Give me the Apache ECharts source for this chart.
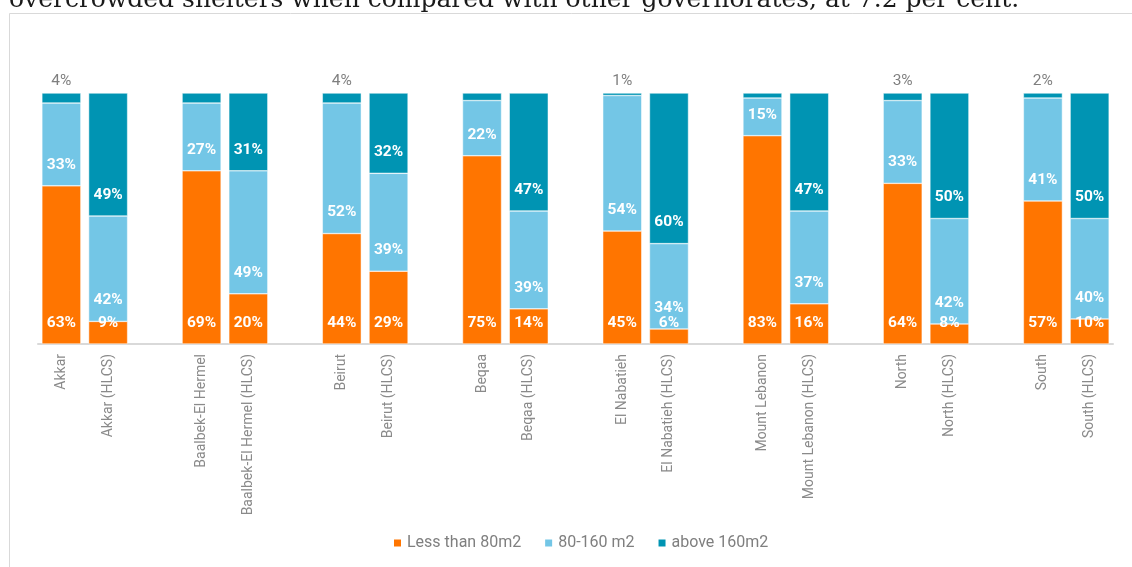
<!DOCTYPE html>
<html>
<head>
<meta charset="utf-8">
<title>Shelter size by governorate</title>
<script src="https://cdn.jsdelivr.net/npm/echarts@6/dist/echarts.min.js"></script>
<style>
  html, body { margin: 0; padding: 0; background: #ffffff; }
  #chart { width: 1132px; height: 567px; }
</style>
</head>
<body>
<div id="chart"></div>
<script>
// Governorates, each shown with its survey value and its HLCS value
const governorates = ['Akkar', 'Baalbek-El Hermel', 'Beirut', 'Beqaa', 'El Nabatieh', 'Mount Lebanon', 'North', 'South'];

// Share of shelters (%) by floor area
const under80 = [63, 69, 44, 75, 45, 83, 64, 57];
const under80Hlcs = [9, 20, 29, 14, 6, 16, 8, 10];
const from80to160 = [33, 27, 52, 22, 54, 15, 33, 41];
const from80to160Hlcs = [42, 49, 39, 39, 34, 37, 42, 40];
const above160 = [4, 4, 4, 3, 1, 2, 3, 2];
const above160Hlcs = [49, 31, 32, 47, 60, 47, 50, 50];

// Small top segments that carry no value label
const unlabelledTop = ['Baalbek-El Hermel', 'Beqaa', 'Mount Lebanon'];

const seriesNames = ['Less than 80m2', '80-160 m2', 'above 160m2'];
const colors = ['#FF7500', '#73C6E6', '#0094B3'];
const headline = 'overcrowded shelters when compared with other governorates, at 7.2 per cent.';

// Build the category axis: pair of bars per governorate, blank slot between pairs
const categories = [];
governorates.forEach((g, i) => {
  categories.push(g, g + ' (HLCS)');
  if (i < governorates.length - 1) categories.push('');
});

function interleave(main, hlcs, decorateMain) {
  const out = [];
  main.forEach((v, i) => {
    out.push(decorateMain ? decorateMain(v, i) : v);
    out.push(hlcs[i]);
    if (i < main.length - 1) out.push('-');
  });
  return out;
}

const insideLabel = {
  show: true,
  position: 'insideBottom',
  distance: 13,
  color: '#ffffff',
  fontFamily: 'Roboto',
  fontWeight: 'bold',
  fontSize: 15.5,
  formatter: p => p.value + '%'
};

// Top segment of the survey bars is thin: its label sits above the bar in grey
const topData = interleave(above160, above160Hlcs, (v, i) => ({
  value: v,
  label: unlabelledTop.includes(governorates[i])
    ? { show: false }
    : { show: true, position: 'top', distance: 4, color: '#7F7F7F', fontWeight: 'normal' }
}));

const seriesData = [
  interleave(under80, under80Hlcs),
  interleave(from80to160, from80to160Hlcs),
  topData
];

const chart = echarts.init(document.getElementById('chart'), null, { renderer: 'canvas' });

chart.setOption({
  animation: false,
  backgroundColor: '#ffffff',
  color: colors,
  textStyle: { fontFamily: 'Roboto' },
  graphic: [
    {
      type: 'rect',
      shape: { x: 9.5, y: 13.5, width: 1200, height: 700 },
      style: { fill: 'none', stroke: '#D9D9D9', lineWidth: 1 },
      silent: true,
      z: -1
    },
    {
      type: 'text',
      style: {
        x: 9,
        y: 13,
        text: headline,
        font: '25px "DejaVu Serif"',
        fill: '#1a1a1a',
        verticalAlign: 'bottom'
      },
      silent: true
    }
  ],
  legend: {
    data: seriesNames,
    left: 387,
    top: 530,
    itemWidth: 9,
    itemHeight: 9,
    itemGap: 22,
    icon: 'rect',
    textStyle: { color: '#7F7F7F', fontSize: 16, fontFamily: 'Roboto' }
  },
  grid: { left: 38, right: 19, top: 93, height: 251, containLabel: false },
  xAxis: {
    type: 'category',
    data: categories,
    axisLine: { lineStyle: { color: '#D9D9D9', width: 2 } },
    axisTick: { show: false },
    axisLabel: {
      interval: 0,
      rotate: 90,
      margin: 10,
      color: '#8A8A8A',
      fontSize: 14,
      fontFamily: 'Roboto'
    }
  },
  yAxis: {
    type: 'value',
    min: 0,
    max: 100,
    show: false
  },
  series: seriesNames.map((name, k) => ({
    name,
    type: 'bar',
    stack: 'share',
    barWidth: 39,
    data: seriesData[k],
    itemStyle: { color: colors[k], borderColor: '#ffffff', borderWidth: 0.5 },
    label: insideLabel
  }))
});
</script>
</body>
</html>
